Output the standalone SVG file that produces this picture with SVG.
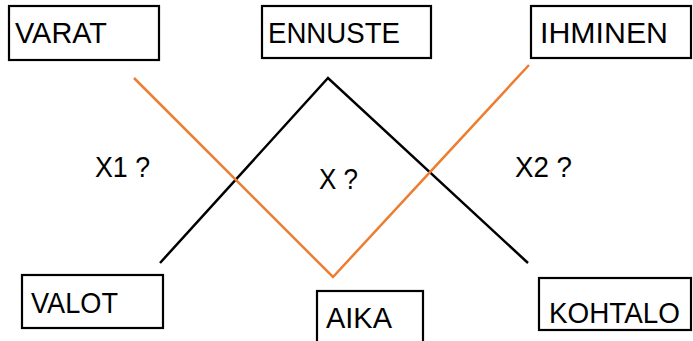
<svg xmlns="http://www.w3.org/2000/svg" width="693" height="341" viewBox="0 0 693 341">
<style>
.box{fill:#fff;stroke:#000;stroke-width:2.2}
.t{font-family:"Liberation Sans",Arial,sans-serif;font-size:29.5px;fill:#000}
.blk{fill:none;stroke:#000;stroke-width:2.5}
.org{fill:none;stroke:#ED7D31;stroke-width:2.5}
</style>
<rect width="693" height="341" fill="#fff"/>
<g id="connectors">
<polyline class="blk" points="160,263 328,78 528,263"/>
<polyline class="org" points="134,78 333,277 529,65"/>
</g>
<g id="varat"><rect class="box" x="9" y="6" width="150" height="54"/><text class="t" x="15" y="43" textLength="92" lengthAdjust="spacingAndGlyphs">VARAT</text></g>
<g id="ennuste"><rect class="box" x="262" y="6" width="169" height="52"/><text class="t" x="268" y="43" textLength="132" lengthAdjust="spacingAndGlyphs">ENNUSTE</text></g>
<g id="ihminen"><rect class="box" x="531" y="6" width="160" height="52"/><text class="t" x="540" y="43" textLength="128" lengthAdjust="spacingAndGlyphs">IHMINEN</text></g>
<g id="valot"><rect class="box" x="22" y="275" width="141" height="53"/><text class="t" x="31" y="313" textLength="87" lengthAdjust="spacingAndGlyphs">VALOT</text></g>
<g id="aika"><rect class="box" x="317" y="291" width="106" height="60"/><text class="t" x="326" y="328" textLength="66" lengthAdjust="spacingAndGlyphs">AIKA</text></g>
<g id="kohtalo"><rect class="box" x="539" y="278" width="152" height="52"/><text class="t" x="549" y="323" textLength="131" lengthAdjust="spacingAndGlyphs">KOHTALO</text></g>
<g id="labels">
<text class="t" x="95" y="177" textLength="55" lengthAdjust="spacingAndGlyphs">X1 ?</text>
<text class="t" x="319" y="189" textLength="39" lengthAdjust="spacingAndGlyphs">X ?</text>
<text class="t" x="515" y="177" textLength="57" lengthAdjust="spacingAndGlyphs">X2 ?</text>
</g>
</svg>
